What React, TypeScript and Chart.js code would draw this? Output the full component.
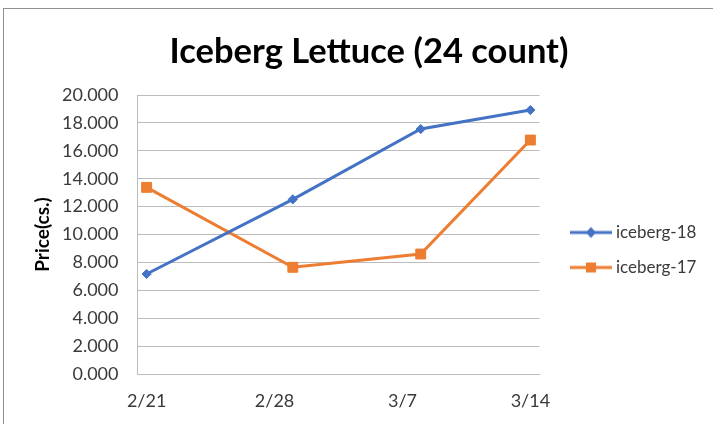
import React, { useEffect, useRef } from 'react';
import { Chart, registerables } from 'chart.js';

Chart.register(...registerables);

// ---- data ----
const tickLabels = ['2/21', '2/28', '3/7', '3/14'];
const tickDays = [0, 7, 14, 21];
const pointDays = [0, 8, 15, 21];
const iceberg18 = [7.17, 12.52, 17.56, 18.92];
const iceberg17 = [13.38, 7.65, 8.6, 16.77];
const seriesNames = ['iceberg-18', 'iceberg-17'];

const BLUE = '#4472C4';
const ORANGE = '#ED7D31';
const GRID = '#bcbcbc';
const TEXT = '#3a3a3a';
const FONT = 'Lato';

const W = 713;
const H = 500;
const PLOT_LEFT = 137.5;
const PLOT_RIGHT = 539.5;
const PLOT_BOTTOM = 374;
const PAD_LEFT = 31.6;
const LEGEND_FONT = 17;
const LEGEND_PAD = 18;
const LEGEND_BOX = 50;

function legendGlyph(color: string, shape: 'diamond' | 'square') {
  const c = document.createElement('canvas');
  c.width = 59;
  c.height = 14;
  const ctx = c.getContext('2d')!;
  ctx.strokeStyle = color;
  ctx.lineWidth = 3;
  ctx.beginPath();
  ctx.moveTo(17, 7);
  ctx.lineTo(59, 7);
  ctx.stroke();
  ctx.fillStyle = color;
  const cx = 38;
  const cy = 7;
  if (shape === 'diamond') {
    ctx.beginPath();
    ctx.moveTo(cx, cy - 5.5);
    ctx.lineTo(cx + 5, cy);
    ctx.lineTo(cx, cy + 5.5);
    ctx.lineTo(cx - 5, cy);
    ctx.closePath();
    ctx.fill();
  } else {
    ctx.fillRect(cx - 5, cy - 5, 10, 10);
  }
  return c;
}

export default function App() {
  const ref = useRef<HTMLCanvasElement | null>(null);

  useEffect(() => {
    const canvas = ref.current;
    if (!canvas) return;
    Chart.defaults.font.family = FONT;

    const m = document.createElement('canvas').getContext('2d')!;
    m.font = `${LEGEND_FONT}px ${FONT}`;
    const textW = Math.max(...seriesNames.map((s) => m.measureText(s).width));
    const legendWidth = LEGEND_PAD + LEGEND_BOX + LEGEND_FONT / 2 + textW + 10;
    const padRight = W - PLOT_RIGHT - legendWidth;

    const glyphs = [legendGlyph(BLUE, 'diamond'), legendGlyph(ORANGE, 'square')];

    const chart = new Chart(canvas, {
      type: 'line',
      data: {
        datasets: [
          {
            label: seriesNames[0],
            data: pointDays.map((d, i) => ({ x: d, y: iceberg18[i] })),
            borderColor: BLUE,
            backgroundColor: BLUE,
            borderWidth: 3,
            pointStyle: 'rectRot',
            pointRadius: 4.6,
            pointBorderWidth: 1,
            pointBackgroundColor: BLUE,
            pointBorderColor: BLUE,
            tension: 0,
          },
          {
            label: seriesNames[1],
            data: pointDays.map((d, i) => ({ x: d, y: iceberg17[i] })),
            borderColor: ORANGE,
            backgroundColor: ORANGE,
            borderWidth: 3,
            pointStyle: 'rect',
            pointRadius: 7,
            pointBorderWidth: 1,
            pointBackgroundColor: ORANGE,
            pointBorderColor: ORANGE,
            tension: 0,
          },
        ],
      },
      options: {
        responsive: false,
        animation: false,
        events: [],
        layout: { padding: { left: PAD_LEFT, top: 0, right: padRight, bottom: 0 } },
        plugins: {
          title: {
            display: true,
            text: 'Iceberg Lettuce (24 count)',
            color: '#000',
            font: { family: FONT, size: 34.5, weight: 'bold' },
            padding: { top: 31.3, bottom: 22.3 },
          },
          legend: {
            position: 'right',
            align: 'center',
            labels: {
              usePointStyle: true,
              pointStyleWidth: LEGEND_BOX,
              padding: LEGEND_PAD,
              color: TEXT,
              font: { family: FONT, size: LEGEND_FONT },
              generateLabels: (ch: any) => {
                const base = (Chart.defaults.plugins.legend.labels as any).generateLabels(ch);
                return base.map((it: any, i: number) => ({ ...it, pointStyle: glyphs[i] }));
              },
            },
          },
          tooltip: { enabled: false },
        },
        scales: {
          x: {
            type: 'linear',
            min: -0.5,
            max: 21.5,
            afterBuildTicks: (axis: any) => {
              axis.ticks = tickDays.map((v) => ({ value: v }));
            },
            afterFit: (s: any) => {
              s.height = H - PLOT_BOTTOM;
            },
            grid: { display: false, drawTicks: false },
            border: { display: true, color: GRID, width: 1 },
            ticks: {
              autoSkip: false,
              maxRotation: 0,
              padding: 16,
              color: TEXT,
              font: { family: FONT, size: 18 },
              callback: (v: any) => {
                const i = tickDays.indexOf(Number(v));
                return i >= 0 ? tickLabels[i] : '';
              },
            },
          },
          y: {
            min: 0,
            max: 20,
            afterFit: (s: any) => {
              s.width = PLOT_LEFT - PAD_LEFT;
            },
            grid: { color: GRID, drawTicks: false, lineWidth: 1 },
            border: { display: true, color: GRID, width: 1 },
            ticks: {
              stepSize: 2,
              padding: 19,
              color: TEXT,
              font: { family: FONT, size: 18 },
              callback: (v: any) => Number(v).toFixed(3),
            },
            title: {
              display: true,
              text: 'Price(cs.)',
              color: '#000',
              font: { family: FONT, size: 19, weight: 'bold' },
              padding: 0,
            },
          },
        },
      },
    });
    return () => chart.destroy();
  }, []);

  return (
    <div
      style={{
        position: 'absolute',
        left: 0,
        top: 0,
        width: W,
        height: 424,
        overflow: 'hidden',
        background: '#fff',
      }}
    >
      <div
        style={{
          position: 'absolute',
          left: 3,
          top: 8,
          width: 780,
          height: 520,
          borderTop: '1px solid #8f8f8f',
          borderLeft: '1px solid #8f8f8f',
        }}
      />
      <canvas
        ref={ref}
        width={W}
        height={H}
        style={{ position: 'absolute', left: 0, top: 0, width: W, height: H, display: 'block' }}
      />
    </div>
  );
}
